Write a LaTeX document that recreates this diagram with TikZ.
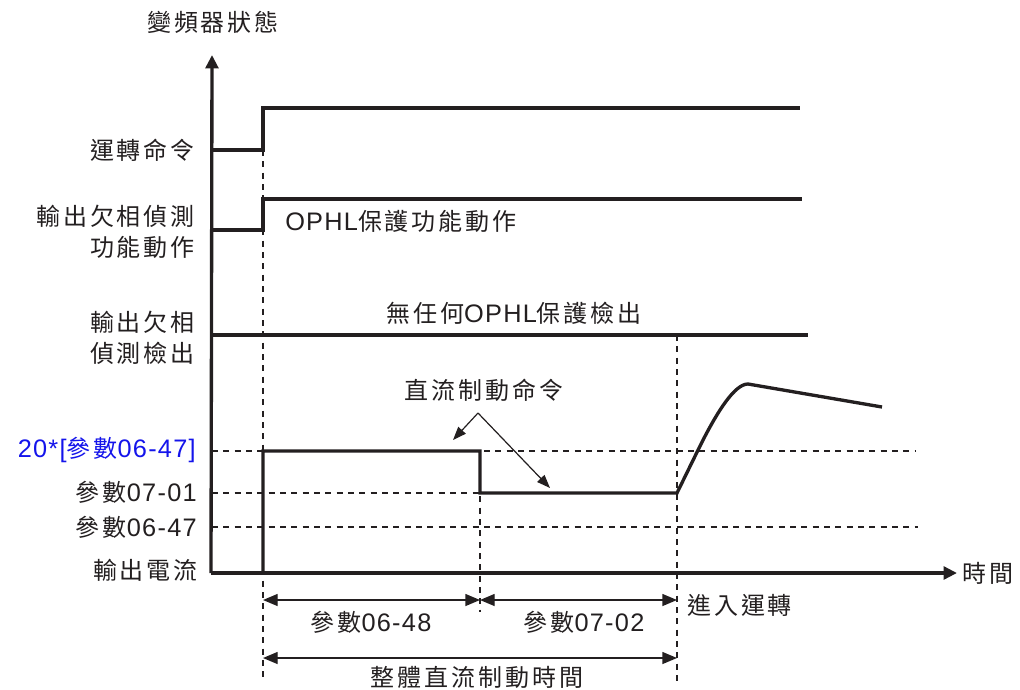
\documentclass[tikz,border=0pt]{standalone}
\usepackage{fontspec}
\setmainfont{Liberation Sans}[LetterSpace=5]
\newfontfamily\cjk[LetterSpace=12]{Noto Sans CJK TC}
\usetikzlibrary{arrows.meta}
\definecolor{ink}{RGB}{35,31,32}
\definecolor{lblue}{RGB}{20,20,235}
\begin{document}
\begin{tikzpicture}[x=0.75pt,y=-0.75pt,
  lbl/.style={font=\fontsize{19}{21}\selectfont, text=ink, inner sep=0pt},
  bl/.style={lbl, align=right, font=\fontsize{18}{23.5}\selectfont},
  axisline/.style={draw=ink, line width=2.5pt, -{Triangle[length=10pt,width=9.5pt]}},
  sig/.style={draw=ink, line width=2.5pt, line join=miter},
  dotline/.style={draw=ink, line width=1.7pt, dash pattern=on 4.5pt off 4pt},
  dim/.style={draw=ink, line width=1pt, {Triangle[length=11pt,width=9pt]}-{Triangle[length=11pt,width=9pt]}},
  ann/.style={draw=ink, line width=0.9pt, -{Triangle[length=10pt,width=7.5pt]}}]
\useasboundingbox (0,0) rectangle (1020,689);

% key coordinates
\coordinate (O) at (211,573);
\coordinate (ytip) at (212,55);
\coordinate (xtip) at (957,573);

% axes
\draw[axisline] (O) -- (ytip);
\draw[axisline] (O) -- (xtip);
\node[lbl] (ytitle) at (213,22) {\cjk\fontsize{18}{21}\selectfont 變頻器狀態};
\node[lbl, anchor=west] (xtitle) at (962,573) {\cjk\fontsize{18}{21}\selectfont 時間};

% left labels
\node[lbl, anchor=east] (runcmd) at (195,150) {\cjk\fontsize{18}{21}\selectfont 運轉命令};
\node[bl, anchor=east] (ophlfn) at (195,232) {\cjk 輸出欠相偵測\\\cjk 功能動作};
\node[bl, anchor=east] (ophldet) at (195,338) {\cjk 輸出欠相\\\cjk 偵測檢出};
\node[lbl, anchor=east, text=lblue] (lv1) at (196,450) {20*[{\cjk\fontsize{18}{21}\selectfont 參數}06-47]};
\node[lbl, anchor=east] (lv2) at (197,492) {{\cjk\fontsize{18}{21}\selectfont 參數}07-01};
\node[lbl, anchor=east] (lv3) at (197,527) {{\cjk\fontsize{18}{21}\selectfont 參數}06-47};
\node[lbl, anchor=east] (iout) at (198,570) {\cjk\fontsize{18}{21}\selectfont 輸出電流};

% dotted guide lines
\draw[dotline] (212,451) -- (915,451);
\draw[dotline] (212,493) -- (480,493);
\draw[dotline] (212,527) -- (918,527);
\draw[dotline] (263,150) -- (263,682);
\draw[dotline] (480,451) -- (480,612);
\draw[dotline] (677,335) -- (677,682);

% signals
\draw[sig] (212,150) -- (263,150) -- (263,108) -- (800,108);
\draw[sig] (212,230) -- (263,230) -- (263,199) -- (802,199);
\draw[sig] (212,335) -- (808,335);
\draw[sig] (263,573) -- (263,451) -- (480,451) -- (480,493) -- (677,493)
  -- (700,446) .. controls (718,410) and (735,384) .. (748,384) -- (882,407);

% texts in the plot
\node[lbl, anchor=west] (ophlact) at (285,221) {OPHL{\cjk\fontsize{18}{21}\selectfont 保護功能動作}};
\node[lbl] (noophl) at (514,313) {{\cjk\fontsize{18}{21}\selectfont 無任何}OPHL{\cjk\fontsize{18}{21}\selectfont 保護檢出}};
\node[lbl] (dccmd) at (484,390) {\cjk\fontsize{18}{21}\selectfont 直流制動命令};
\coordinate (apex) at (478,413);
\coordinate (tipA) at (453,440);
\coordinate (tipB) at (550,488);
\draw[ann] (apex) -- (tipA);
\draw[ann] (apex) -- (tipB);

% dimensions
\coordinate (d0) at (263,600);
\coordinate (d1) at (480,600);
\coordinate (d2) at (677,600);
\coordinate (e0) at (263,658);
\coordinate (e2) at (677,658);
\draw[dim] (d0) -- (d1);
\draw[dim] (d1) -- (d2);
\draw[dim] (e0) -- (e2);
\node[lbl] (p0648) at (371,622) {{\cjk\fontsize{18}{21}\selectfont 參數}06-48};
\node[lbl] (p0702) at (584,622) {{\cjk\fontsize{18}{21}\selectfont 參數}07-02};
\node[lbl] (total) at (477,677) {\cjk\fontsize{18}{21}\selectfont 整體直流制動時間};
\node[lbl, anchor=west] (enter) at (687,605) {\cjk\fontsize{18}{21}\selectfont 進入運轉};
\end{tikzpicture}
\end{document}
